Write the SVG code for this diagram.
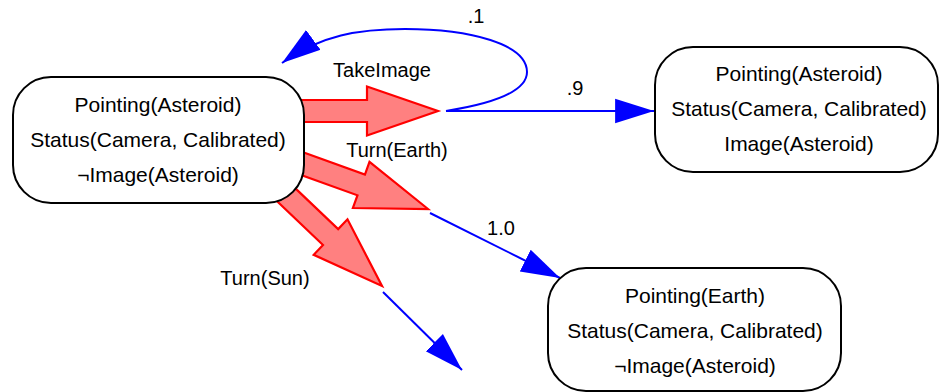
<svg xmlns="http://www.w3.org/2000/svg" width="939" height="392" viewBox="0 0 939 392">
<style>
  .node rect { fill: #ffffff; stroke: #000000; stroke-width: 2; }
  .node text { font-family: "Liberation Sans", Arial, sans-serif; font-size: 21px; fill: #000000; text-anchor: middle; }
  .action { fill: #ff8080; stroke: #ff0000; stroke-width: 2.2; stroke-linejoin: miter; }
  .out { fill: none; stroke: #0000ff; stroke-width: 2; marker-end: url(#ah); }
  .lbl { font-family: "Liberation Sans", Arial, sans-serif; font-size: 20px; fill: #000000; text-anchor: middle; }
</style>
<defs>
  <marker id="ah" markerUnits="userSpaceOnUse" markerWidth="40" markerHeight="30" viewBox="0 -12 36 24" refX="35" refY="0" orient="auto">
    <path d="M0,-11 L35,0 L0,11 Z" fill="#0000ff"/>
  </marker>
</defs>
<g id="connectors">
  <polygon class="action" transform="translate(438,111)" points="-138,-11 -71,-11 -71,-24.5 0,0 -71,24.5 -71,11 -138,11"/>
  <polygon class="action" transform="translate(428,209) rotate(19.8)" points="-150,-11 -71,-11 -71,-24.5 0,0 -71,24.5 -71,11 -150,11"/>
  <polygon class="action" transform="translate(382,286) rotate(43.6)" points="-150,-11 -71,-11 -71,-24.5 0,0 -71,24.5 -71,11 -150,11"/>
  <path class="out" d="M446,111 L654,111"/>
  <path class="out" d="M446,111 C490,104 527,92 527,72 C527,44 470,29 405,29 C360,29 320,35 282,63"/>
  <path class="out" d="M430,213 L560,278"/>
  <path class="out" d="M383,292 L462,370"/>
  <text class="lbl" x="382" y="77">TakeImage</text>
  <text class="lbl" x="397" y="157">Turn(Earth)</text>
  <text class="lbl" x="265" y="285">Turn(Sun)</text>
  <text class="lbl" x="476" y="23">.1</text>
  <text class="lbl" x="575" y="95">.9</text>
  <text class="lbl" x="501" y="235">1.0</text>
</g>
<g id="n_start" class="node">
  <rect x="13" y="77" width="291" height="126" rx="38" ry="38"/>
  <text x="158" y="112">Pointing(Asteroid)</text>
  <text x="158" y="147">Status(Camera, Calibrated)</text>
  <text x="158" y="182">¬Image(Asteroid)</text>
</g>
<g id="n_image" class="node">
  <rect x="655" y="47" width="283" height="125" rx="38" ry="38"/>
  <text x="799" y="81">Pointing(Asteroid)</text>
  <text x="799" y="116">Status(Camera, Calibrated)</text>
  <text x="799" y="151">Image(Asteroid)</text>
</g>
<g id="n_earth" class="node">
  <rect x="548" y="268" width="293" height="123" rx="38" ry="38"/>
  <text x="695" y="303">Pointing(Earth)</text>
  <text x="695" y="338">Status(Camera, Calibrated)</text>
  <text x="695" y="373">¬Image(Asteroid)</text>
</g>
</svg>
